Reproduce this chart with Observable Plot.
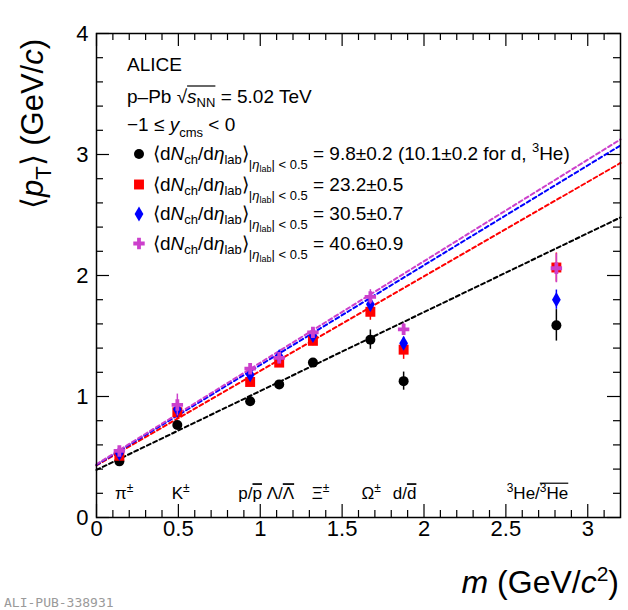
<!DOCTYPE html>
<html><head><meta charset="utf-8">
<script src="https://cdn.jsdelivr.net/npm/d3@7"></script>
<script src="https://cdn.jsdelivr.net/npm/@observablehq/plot@0.6"></script>
<style>body{margin:0;background:#fff}</style>
</head><body><div id="chart"></div>
<script>
// ---- data ----
const masses = [0.1396, 0.4937, 0.9383, 1.1157, 1.3217, 1.6725, 1.8756, 2.8084];
const meanPt10 = [0.464, 0.765, 0.961, 1.10, 1.28, 1.47, 1.127, 1.588];
const err10    = [0.02, 0.03, 0.03, 0.03, 0.03, 0.08, 0.075, 0.13];
const meanPt23 = [0.51, 0.87, 1.12, 1.28, 1.46, 1.70, 1.387, 2.066];
const err23    = [0.02, 0.06, 0.04, 0.04, 0.04, 0.07, 0.08, 0.12];
const meanPt30 = [0.53, 0.895, 1.18, 1.33, 1.505, 1.762, 1.44, 1.80];
const err30    = [0.02, 0.07, 0.04, 0.04, 0.04, 0.06, 0.05, 0.08];
const meanPt40 = [0.55, 0.93, 1.23, 1.32, 1.53, 1.823, 1.555, 2.06];
const err40    = [0.02, 0.09, 0.04, 0.04, 0.04, 0.06, 0.05, 0.12];
const fitX   = [0, 3.2];
const fit10  = [0.393, 2.48];
const fit23  = [0.43, 2.93];
const fit30  = [0.435, 3.075];
const fit40  = [0.44, 3.125];
const legendValues = [" = 9.8±0.2 (10.1±0.2 for d, ", " = 23.2±0.5", " = 30.5±0.7", " = 40.6±0.9"];
const xMajor = [0, 0.5, 1, 1.5, 2, 2.5, 3];
const xTickLabels = ["0", "0.5", "1", "1.5", "2", "2.5", "3"];
const yMajor = [0, 1, 2, 3, 4];
const yTickLabels = ["0", "1", "2", "3", "4"];
const particleX = [0.116, 0.462, 0.869, 1.317, 1.622, 1.812, 2.508];
const particleY = 0.147;

// ---- styles ----
const values = [meanPt10, meanPt23, meanPt30, meanPt40];
const errors = [err10, err23, err30, err40];
const fits = [fit10, fit23, fit30, fit40];
const colors = ["#000000", "#ff0000", "#0000ff", "#cc40cc"];
const symbols = ["circle", "square", "diamond", "cross"];
const radii = [5, 5.6, 4.6, 4.8];
const d3sym = [d3.symbolCircle, d3.symbolSquare, d3.symbolDiamond, d3.symbolCross];

const W = 628, H = 610, mL = 96, mR = 8, mT = 33, mB = 93;
const frameH = H - mT - mB, frameW = W - mL - mR;
const tMaj = 13, tMin = 7;
const xMinor = d3.range(1, 32).map(i => i / 10).filter(v => Math.abs(v * 2 - Math.round(v * 2)) > 1e-6);
const yMinor = d3.range(1, 20).map(i => i / 5).filter(v => Math.abs(v - Math.round(v)) > 1e-6);
const tk = {stroke: "#000", strokeWidth: 1.2};

const marks = [
  Plot.tickX(xMinor, {x: d => d, insetTop: frameH - tMin, ...tk}),
  Plot.tickX(xMinor, {x: d => d, insetBottom: frameH - tMin, ...tk}),
  Plot.tickX(xMajor, {x: d => d, insetTop: frameH - tMaj, ...tk}),
  Plot.tickX(xMajor, {x: d => d, insetBottom: frameH - tMaj, ...tk}),
  Plot.tickY(yMinor, {y: d => d, insetRight: frameW - tMin, ...tk}),
  Plot.tickY(yMinor, {y: d => d, insetLeft: frameW - tMin, ...tk}),
  Plot.tickY(yMajor, {y: d => d, insetRight: frameW - tMaj, ...tk}),
  Plot.tickY(yMajor, {y: d => d, insetLeft: frameW - tMaj, ...tk}),
  Plot.text(xMajor, {x: d => d, text: (d, i) => xTickLabels[i], frameAnchor: "bottom", dy: 18, fontSize: 22, fill: "#000"}),
  Plot.text(yMajor, {y: d => d, text: (d, i) => yTickLabels[i], frameAnchor: "left", dx: -8, textAnchor: "end", fontSize: 22, fill: "#000"})
];
fits.forEach((f, i) => {
  marks.push(Plot.line(fitX.map((x, k) => ({x, y: f[k]})), {x: "x", y: "y", stroke: colors[i], strokeWidth: 2, strokeDasharray: "4,3"}));
});
values.forEach((vals, i) => {
  const rows = masses.map((m, j) => ({m, v: vals[j], e: errors[i][j]}));
  marks.push(Plot.ruleX(rows, {x: "m", y1: d => d.v - d.e, y2: d => d.v + d.e, stroke: colors[i], strokeWidth: 1.5}));
  marks.push(Plot.dot(rows, {x: "m", y: "v", symbol: symbols[i], r: radii[i], fill: colors[i], stroke: "none"}));
});
marks.push(Plot.frame({stroke: "#000", strokeWidth: 1.5}));

const svg = Plot.plot({
  width: W, height: H, marginLeft: mL, marginRight: mR, marginTop: mT, marginBottom: mB,
  x: {domain: [0, 3.2], axis: null},
  y: {domain: [0, 4], axis: null},
  style: {fontFamily: "'Liberation Sans', Arial, sans-serif", background: "white", color: "black"},
  marks
});
document.getElementById("chart").append(svg);

const xs = svg.scale("x"), ys = svg.scale("y");
const g = d3.select(svg).append("g").attr("font-family", "'Liberation Sans', Arial, sans-serif").attr("fill", "#000").attr("text-anchor", "start");

function rich(x, y, base, parts, anchor) {
  const t = g.append("text").attr("x", x).attr("y", y).attr("font-size", base).attr("text-anchor", anchor || "start");
  let shift = 0;
  const spans = [];
  for (const p of parts) {
    const s = p.s || 0;
    const sp = t.append("tspan").attr("dy", s - shift).text(p.t);
    if (p.size) sp.attr("font-size", p.size);
    if (p.i) sp.attr("font-style", "italic");
    if (p.o) sp.style("text-decoration", "overline");
    spans.push(sp);
    shift = s;
  }
  return {t, spans};
}
function bar(spanA, spanB, y) {
  const a = spanA.node(), b = spanB.node();
  const x0 = a.getStartPositionOfChar(0).x;
  const x1 = b.getEndPositionOfChar(b.getNumberOfChars() - 1).x;
  g.append("line").attr("x1", x0).attr("x2", x1).attr("y1", y).attr("y2", y).attr("stroke", "#000").attr("stroke-width", 1.2);
}

// Axis titles
const yt = rich(0, 0, 31, [{t: "⟨"}, {t: "p", i: 1}, {t: "T", size: 22, s: 8}, {t: "⟩", s: 0}, {t: " (GeV/"}, {t: "c", i: 1}, {t: ")"}], "middle");
yt.t.attr("transform", "translate(43,124) rotate(-90)");
rich(619, 593, 32, [{t: "m", i: 1}, {t: " (GeV/"}, {t: "c", i: 1}, {t: "2", size: 21, s: -12}, {t: ")", s: 0}], "end");

// Header text
rich(127, 71, 19, [{t: "ALICE"}]);
const sq = rich(127, 102.7, 19, [{t: "p–Pb "}, {t: "√"}, {t: "s", i: 1}, {t: "NN", size: 13, s: 4}, {t: " = 5.02 TeV", s: 0}]);
bar(sq.spans[2], sq.spans[3], 86);
rich(127, 131, 19, [{t: "−1 ≤ "}, {t: "y", i: 1}, {t: "cms", size: 13, s: 6}, {t: " < 0", s: 0}]);

// Legend
const legY = [160, 190.5, 220, 249.5];
legendValues.forEach((val, i) => {
  g.append("path").attr("transform", `translate(139,${legY[i] - 6})`)
    .attr("d", d3.symbol(d3sym[i], Math.PI * radii[i] * radii[i])()).attr("fill", colors[i]);
  const parts = [{t: "⟨d"}, {t: "N", i: 1}, {t: "ch", size: 13, s: 4}, {t: "/d", s: 0}, {t: "η", i: 1}, {t: "lab", size: 13, s: 4},
    {t: "⟩", s: 0}, {t: "|", size: 13, s: 9}, {t: "η", i: 1, size: 13, s: 9}, {t: "lab", size: 9, s: 12}, {t: "| < 0.5", size: 13, s: 9},
    {t: val, s: 0}];
  if (i === 0) { parts.push({t: "3", size: 13, s: -8}); parts.push({t: "He)", s: 0}); }
  rich(153, legY[i], 19, parts);
});

// Particle labels
const pm = {t: "±", size: 12, s: -7};
const particleParts = [
  [{t: "π"}, pm],
  [{t: "K"}, pm],
  [{t: "p/"}, {t: "p", o: 1}, {t: " Λ/"}, {t: "Λ", o: 1}],
  [{t: "Ξ"}, pm],
  [{t: "Ω"}, pm],
  [{t: "d/"}, {t: "d", o: 1}],
  [{t: "3", size: 12, s: -7}, {t: "He/", s: 0}, {t: "3", size: 12, s: -7}, {t: "He", s: 0}]
];
const py = ys.apply(particleY);
particleParts.forEach((parts, i) => {
  const r = rich(xs.apply(particleX[i]), py, 17, parts);
  if (i === particleParts.length - 1) bar(r.spans[2], r.spans[3], py - 16);
});

// Watermark
g.append("text").attr("x", 4).attr("y", 607).attr("font-family", "'DejaVu Sans Mono', monospace").attr("font-size", 13).attr("fill", "#9a9a9a").attr("text-anchor", "start").text("ALI-PUB-338931");
</script>
</body></html>
